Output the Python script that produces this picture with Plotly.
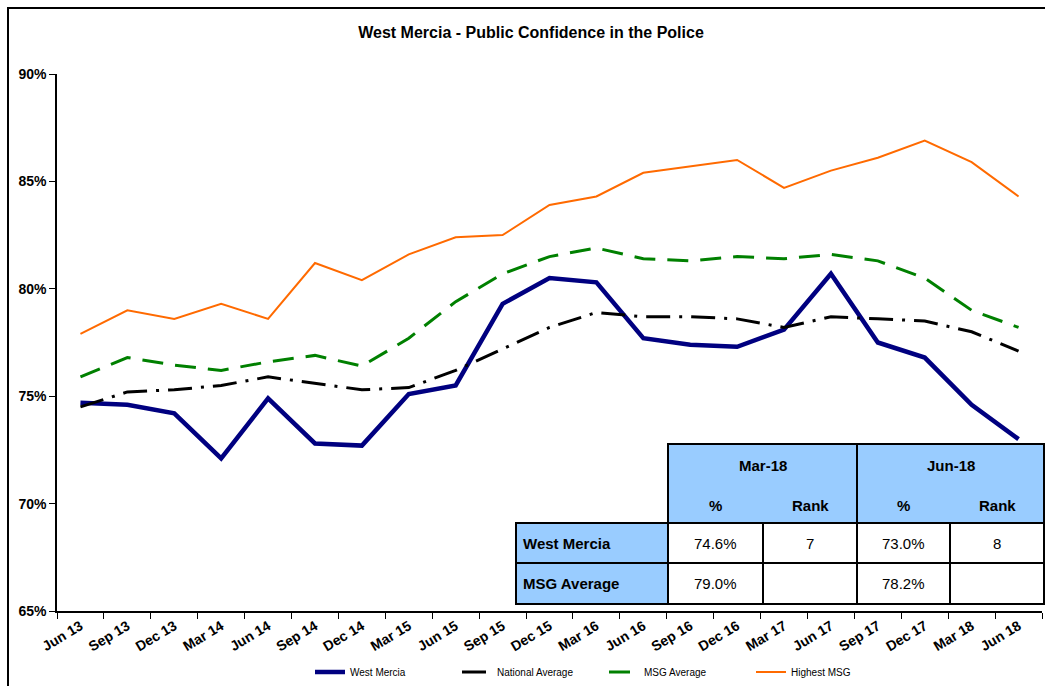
import plotly.graph_objects as go

# ---------------- data ----------------
quarters = ["Jun 13", "Sep 13", "Dec 13", "Mar 14", "Jun 14", "Sep 14", "Dec 14",
            "Mar 15", "Jun 15", "Sep 15", "Dec 15", "Mar 16", "Jun 16", "Sep 16",
            "Dec 16", "Mar 17", "Jun 17", "Sep 17", "Dec 17", "Mar 18", "Jun 18"]
west_mercia = [74.7, 74.6, 74.2, 72.1, 74.9, 72.8, 72.7, 75.1, 75.5, 79.3, 80.5,
               80.3, 77.7, 77.4, 77.3, 78.1, 80.7, 77.5, 76.8, 74.6, 73.0]
national_avg = [74.5, 75.2, 75.3, 75.5, 75.9, 75.6, 75.3, 75.4, 76.2, 77.2, 78.2,
                78.9, 78.7, 78.7, 78.6, 78.2, 78.7, 78.6, 78.5, 78.0, 77.1]
msg_avg = [75.9, 76.8, 76.45, 76.2, 76.6, 76.9, 76.4, 77.7, 79.4, 80.7, 81.5,
           81.9, 81.4, 81.3, 81.5, 81.4, 81.6, 81.3, 80.5, 79.0, 78.2]
highest_msg = [77.9, 79.0, 78.6, 79.3, 78.6, 81.2, 80.4, 81.6, 82.4, 82.5, 83.9,
               84.3, 85.4, 85.7, 86.0, 84.7, 85.5, 86.1, 86.9, 85.9, 84.3]
y_ticks = [65, 70, 75, 80, 85, 90]

table_periods = ["Mar-18", "Jun-18"]
table_subheads = ["%", "Rank"]
table_rows = ["West Mercia", "MSG Average"]
table_pct = [[74.6, 73.0], [79.0, 78.2]]
table_rank = [["7", "8"], ["", ""]]

# ---------------- layout helpers ----------------
W, H = 1045, 686
L, R, T, B = 57, 1042, 74, 611
FONT = "Liberation Sans, Arial, sans-serif"


def px(x):
    return (x - L) / (R - L)


def py(y):
    return (B - y) / (B - T)


fig = go.Figure()
fig.add_trace(go.Scatter(x=quarters, y=west_mercia, name="West Mercia", mode="lines",
                         line=dict(color="#000080", width=4.5)))
fig.add_trace(go.Scatter(x=quarters, y=national_avg, name="National Average", mode="lines",
                         line=dict(color="#000000", width=3, dash="24px,9px,3px,9px")))
fig.add_trace(go.Scatter(x=quarters, y=msg_avg, name="MSG Average", mode="lines",
                         line=dict(color="#008000", width=3, dash="21px,12px")))
fig.add_trace(go.Scatter(x=quarters, y=highest_msg, name="Highest MSG", mode="lines",
                         line=dict(color="#FF6A00", width=2)))

shapes = []
annotations = []

# outer frame
shapes.append(dict(type="rect", xref="paper", yref="paper", x0=px(8), x1=px(1060),
                   y0=py(8), y1=py(720), line=dict(color="black", width=2),
                   fillcolor="rgba(0,0,0,0)", layer="below"))

# table geometry
tx_label0, tx_label1 = 516, 668
col_x = [668, 763, 857, 950, 1044]
ty_head0, ty_head1 = 444, 523
row_y = [523, 563, 604]
BLUE = "#99CCFF"
LW = 2

shapes.append(dict(type="rect", xref="paper", yref="paper", x0=px(col_x[0]), x1=px(col_x[4]),
                   y0=py(ty_head0), y1=py(ty_head1), fillcolor=BLUE,
                   line=dict(color="black", width=LW), layer="above"))
for i in range(len(table_rows)):
    shapes.append(dict(type="rect", xref="paper", yref="paper", x0=px(tx_label0), x1=px(tx_label1),
                       y0=py(row_y[i]), y1=py(row_y[i + 1]), fillcolor=BLUE,
                       line=dict(color="black", width=LW), layer="above"))
    for j in range(4):
        shapes.append(dict(type="rect", xref="paper", yref="paper", x0=px(col_x[j]), x1=px(col_x[j + 1]),
                           y0=py(row_y[i]), y1=py(row_y[i + 1]), fillcolor="white",
                           line=dict(color="black", width=LW), layer="above"))
shapes.append(dict(type="line", xref="paper", yref="paper", x0=px(col_x[2]), x1=px(col_x[2]),
                   y0=py(ty_head0), y1=py(ty_head1), line=dict(color="black", width=LW), layer="above"))

tfont_b = dict(family=FONT, size=15, color="black", weight="bold")
tfont = dict(family=FONT, size=15, color="black")


def ann(text, x, y, font, xanchor="center"):
    annotations.append(dict(text=text, x=px(x), y=py(y), xref="paper", yref="paper",
                            showarrow=False, font=font, xanchor=xanchor, yanchor="middle"))


for k, per in enumerate(table_periods):
    cx0, cx1 = col_x[2 * k], col_x[2 * k + 2]
    ann(per, (cx0 + cx1) / 2, 465, tfont_b)
    for s, sub in enumerate(table_subheads):
        ann(sub, (col_x[2 * k + s] + col_x[2 * k + s + 1]) / 2, 505, tfont_b)

for i, rname in enumerate(table_rows):
    yc = (row_y[i] + row_y[i + 1]) / 2
    ann(rname, tx_label0 + 5, yc, tfont_b, xanchor="left")
    for k in range(len(table_periods)):
        ann(f"{table_pct[i][k]:.1f}%", (col_x[2 * k] + col_x[2 * k + 1]) / 2, yc, tfont)
        ann(table_rank[i][k], (col_x[2 * k + 1] + col_x[2 * k + 2]) / 2, yc, tfont)

fig.update_layout(
    width=W, height=H,
    margin=dict(l=L, r=W - R, t=T, b=H - B, autoexpand=False),
    paper_bgcolor="white", plot_bgcolor="white",
    title=dict(text="West Mercia - Public Confidence in the Police",
               x=531 / W, xref="container", xanchor="center",
               y=1 - 32 / H, yref="container", yanchor="middle",
               font=dict(family=FONT, size=16, color="black", weight="bold")),
    xaxis=dict(type="category", categoryorder="array", categoryarray=quarters,
               range=[-0.5, len(quarters) - 0.5],
               showgrid=False, zeroline=False, showline=True, linecolor="black", linewidth=1.5,
               ticks="outside", tickson="boundaries", ticklen=6, tickcolor="black",
               tickangle=-31, automargin=False,
               tickfont=dict(family=FONT, size=14, color="black", weight="bold")),
    yaxis=dict(range=[65, 90], tickvals=y_ticks, ticktext=[f"{v}%" for v in y_ticks],
               showgrid=False, zeroline=False, showline=True, linecolor="black", linewidth=1.5,
               ticks="outside", ticklen=6, tickcolor="black", automargin=False,
               tickfont=dict(family=FONT, size=14, color="black", weight="bold")),
    legend=dict(orientation="h", xref="container", x=310 / W, xanchor="left",
                yref="container", y=1 - 672 / H, yanchor="middle",
                entrywidth=102, entrywidthmode="pixels",
                font=dict(family="Liberation Sans Narrow, Liberation Sans, Arial", size=10, color="black"),
                bgcolor="rgba(0,0,0,0)"),
    shapes=shapes,
    annotations=annotations,
)

fig.write_html("out.html", config={"displayModeBar": False},
               post_script="document.body.style.margin='0';")
